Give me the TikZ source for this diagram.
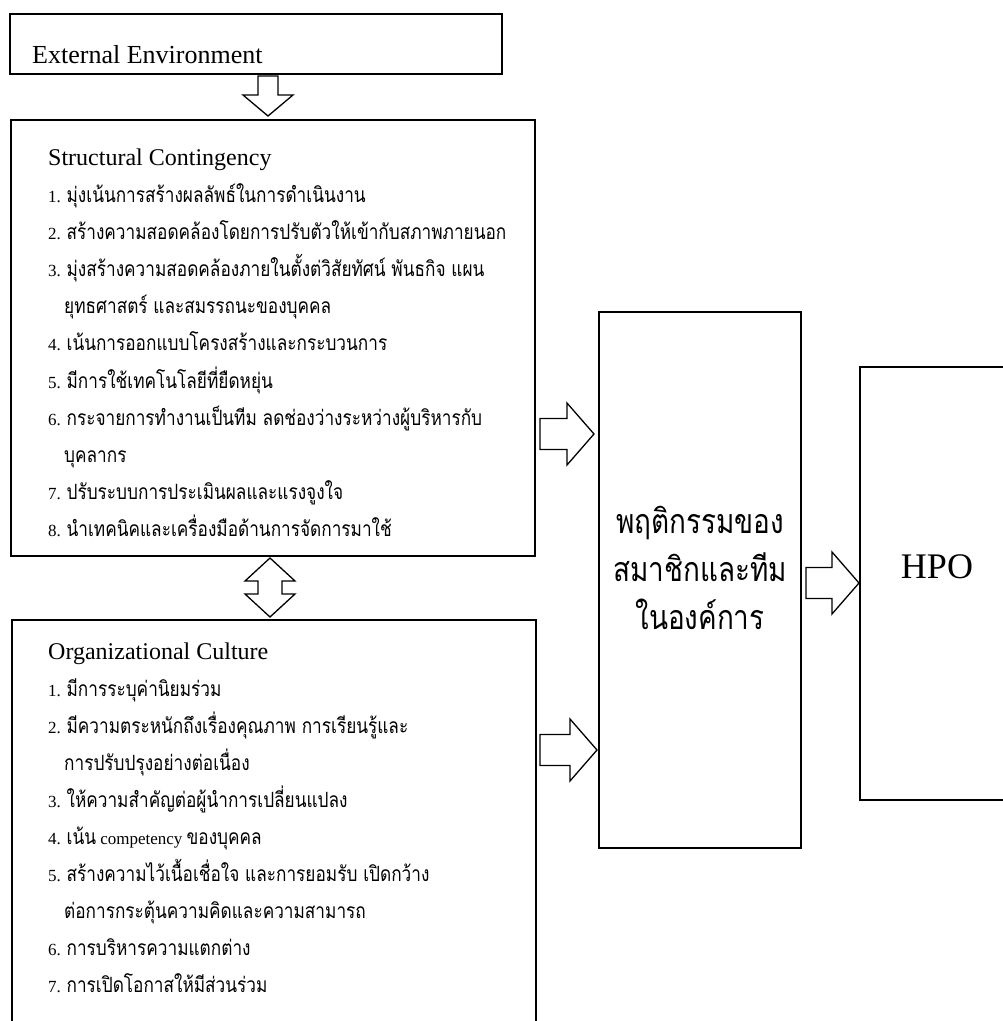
\documentclass[tikz,border=0pt]{standalone}
\usepackage{fontspec}
\setmainfont{Liberation Serif}
\newfontfamily\thfont[Script=Thai,FakeStretch=0.82]{Loma}
\usetikzlibrary{calc}

\tikzset{
  box/.style={draw=black, line width=1.3pt, inner sep=0pt, outer sep=0pt, anchor=north west},
  blk/.style={draw=black, line width=1.3pt, fill=white, line join=miter},
  li/.style={anchor=base west, inner sep=0pt, font=\fontsize{17}{20}\selectfont},
  hd/.style={anchor=base west, inner sep=0pt, font=\fontsize{24}{28}\selectfont},
  midtxt/.style={anchor=base, inner sep=0pt, font=\thfont\fontsize{34}{40}\selectfont},
}
% Thai run inside a list line
\newcommand\tl[1]{{\thfont\fontsize{21}{24}\selectfont #1}}

% block arrows
\newcommand\blkdown[2]{%
  \draw[blk] ($(#1)+(-10,0)$) -- ($(#2)+(-10,-21)$) -- ($(#2)+(-25,-21)$) -- (#2)
    -- ($(#2)+(25,-21)$) -- ($(#2)+(10,-21)$) -- ($(#1)+(10,0)$) -- cycle;}
\newcommand\blkboth[2]{%
  \draw[blk] (#1) -- ($(#1)+(25,23)$) -- ($(#1)+(12,23)$) -- ($(#2)+(12,-23)$)
    -- ($(#2)+(25,-23)$) -- (#2) -- ($(#2)+(-25,-23)$) -- ($(#2)+(-12,-23)$)
    -- ($(#1)+(-12,23)$) -- ($(#1)+(-25,23)$) -- cycle;}
\newcommand\blkright[2]{%
  \draw[blk] ($(#1)+(0,-15.5)$) -- ($(#2)+(-27,-15.5)$) -- ($(#2)+(-27,-31)$) -- (#2)
    -- ($(#2)+(-27,31)$) -- ($(#2)+(-27,15.5)$) -- ($(#1)+(0,15.5)$) -- cycle;}

\begin{document}
\begin{tikzpicture}[x=1pt,y=-1pt]
\useasboundingbox (0,0) rectangle (1003,1021);
\clip (0,0) rectangle (1003,1021);
\fill[white] (0,0) rectangle (1003,1021);

% frames
\node[box, minimum width=492pt, minimum height=60pt]  (ext) at (10,14) {};
\node[box, minimum width=524pt, minimum height=436pt] (st)  at (11,120) {};
\node[box, minimum width=524pt, minimum height=460pt] (oc)  at (12,620) {};
\node[box, minimum width=202pt, minimum height=536pt] (mid) at (599,312) {};
\node[box, minimum width=200pt, minimum height=433pt] (hpo) at (860,367) {};

% external environment
\node[anchor=base west, inner sep=0pt, font=\fontsize{26}{30}\selectfont] (extt) at (32,63) {External Environment};

% structural contingency
\node[hd] (s0) at (48,165) {Structural Contingency};
\node[li] (s1) at (48,202) {1. \tl{มุ่งเน้นการสร้างผลลัพธ์ในการดำเนินงาน}};
\node[li] (s2) at (48,239) {2. \tl{สร้างความสอดคล้องโดยการปรับตัวให้เข้ากับสภาพภายนอก}};
\node[li] (s3) at (48,276) {3. \tl{มุ่งสร้างความสอดคล้องภายในตั้งต่วิสัยทัศน์ พันธกิจ แผน}};
\node[li] (s3b) at (64,313) {\tl{ยุทธศาสตร์ และสมรรถนะของบุคคล}};
\node[li] (s4) at (48,350) {4. \tl{เน้นการออกแบบโครงสร้างและกระบวนการ}};
\node[li] (s5) at (48,388) {5. \tl{มีการใช้เทคโนโลยีที่ยืดหยุ่น}};
\node[li] (s6) at (48,425) {6. \tl{กระจายการทำงานเป็นทีม ลดช่องว่างระหว่างผู้บริหารกับ}};
\node[li] (s6b) at (64,462) {\tl{บุคลากร}};
\node[li] (s7) at (48,499) {7. \tl{ปรับระบบการประเมินผลและแรงจูงใจ}};
\node[li] (s8) at (48,536) {8. \tl{นำเทคนิคและเครื่องมือด้านการจัดการมาใช้}};

% organizational culture
\node[hd] (o0) at (48,659) {Organizational Culture};
\node[li] (o1) at (48,696) {1. \tl{มีการระบุค่านิยมร่วม}};
\node[li] (o2) at (48,733) {2. \tl{มีความตระหนักถึงเรื่องคุณภาพ การเรียนรู้และ}};
\node[li] (o2b) at (64,770) {\tl{การปรับปรุงอย่างต่อเนื่อง}};
\node[li] (o3) at (48,807) {3. \tl{ให้ความสำคัญต่อผู้นำการเปลี่ยนแปลง}};
\node[li] (o4) at (48,844) {4. \tl{เน้น} competency \tl{ของบุคคล}};
\node[li] (o5) at (48,881) {5. \tl{สร้างความไว้เนื้อเชื่อใจ และการยอมรับ เปิดกว้าง}};
\node[li] (o5b) at (64,918) {\tl{ต่อการกระตุ้นความคิดและความสามารถ}};
\node[li] (o6) at (48,955) {6. \tl{การบริหารความแตกต่าง}};
\node[li] (o7) at (48,992) {7. \tl{การเปิดโอกาสให้มีส่วนร่วม}};

% behaviour box
\node[midtxt] (m1) at (700,533) {พฤติกรรมของ};
\node[midtxt] (m2) at (700,581) {สมาชิกและทีม};
\node[midtxt] (m3) at (700,629) {ในองค์การ};

% HPO
\node[anchor=base, inner sep=0pt, font=\fontsize{36}{40}\selectfont] (hpot) at (937,578) {HPO};

% connectors
\coordinate (a0s) at ($(268,0 |- ext.south)+(0,2)$);
\coordinate (a0t) at ($(268,0 |- st.north)+(0,-4)$);
\blkdown{a0s}{a0t}

\coordinate (a1s) at ($(270,0 |- st.south)+(0,2)$);
\coordinate (a1t) at ($(270,0 |- oc.north)+(0,-3)$);
\blkboth{a1s}{a1t}

\coordinate (a2s) at ($(st.east |- 0,434)+(5,0)$);
\coordinate (a2t) at ($(mid.west |- 0,434)+(-5,0)$);
\blkright{a2s}{a2t}

\coordinate (a3s) at ($(oc.east |- 0,750)+(4,0)$);
\coordinate (a3t) at ($(mid.west |- 0,750)+(-2,0)$);
\blkright{a3s}{a3t}

\coordinate (a4s) at ($(mid.east |- 0,583)+(5,0)$);
\coordinate (a4t) at ($(hpo.west |- 0,583)+(-1,0)$);
\blkright{a4s}{a4t}
\end{tikzpicture}
\end{document}
